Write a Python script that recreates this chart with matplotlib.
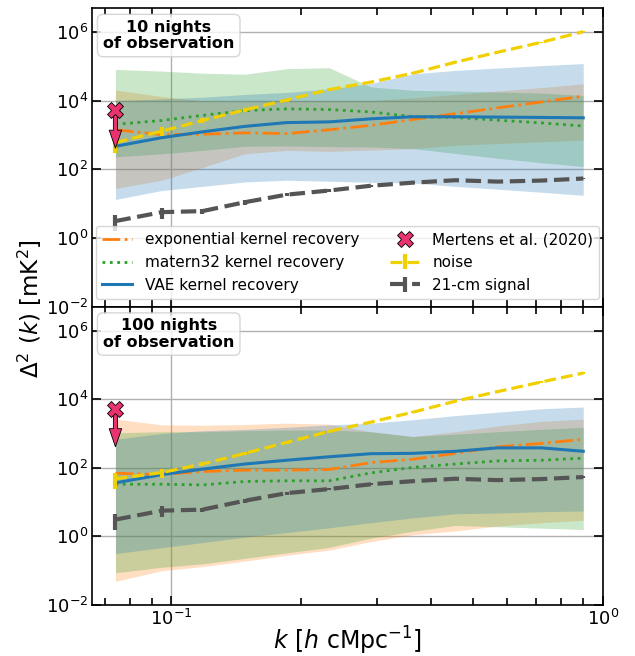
import numpy as np
import matplotlib
matplotlib.use("Agg")
import matplotlib.pyplot as plt
from matplotlib.ticker import FixedLocator, NullLocator, LogLocator, NullFormatter

# ---------------- data ----------------
k = [0.0742, 0.095, 0.118, 0.148, 0.185, 0.232, 0.29, 0.363, 0.455, 0.57, 0.72, 0.90]

# 21-cm signal (same in both panels), log10 mK^2
signal_log = [0.49, 0.75, 0.78, 1.04, 1.26, 1.38, 1.52, 1.61, 1.68, 1.64, 1.67, 1.73]
signal_relerr = [0.5, 0.35, 0.15, 0.15, 0.1, 0.08, 0.06, 0.05, 0.05, 0.05, 0.05, 0.05]

# noise
noise10_log = [2.78, 3.11, 3.42, 3.73, 4.02, 4.32, 4.54, 4.80, 5.12, 5.41, 5.70, 6.01]
noise100_log = [1.68, 1.86, 2.11, 2.42, 2.74, 3.06, 3.33, 3.62, 3.94, 4.22, 4.50, 4.76]
noise_relerr = [0.5, 0.3, 0.15, 0.12, 0.1, 0.08, 0.06, 0.05, 0.05, 0.05, 0.05, 0.05]

# 10 nights: medians and bands (log10)
exp10_log = [3.15, 3.01, 3.02, 3.06, 3.04, 3.15, 3.28, 3.45, 3.62, 3.79, 3.96, 4.13]
exp10_hi = [4.31, 4.12, 4.00, 3.98, 4.00, 4.00, 4.00, 4.08, 4.18, 4.28, 4.38, 4.49]
exp10_lo = [1.44, 1.68, 2.05, 2.45, 2.55, 2.52, 2.56, 2.60, 2.70, 2.75, 2.80, 2.85]
mat10_log = [3.31, 3.42, 3.57, 3.71, 3.76, 3.74, 3.67, 3.53, 3.51, 3.43, 3.35, 3.26]
mat10_hi = [4.91, 4.86, 4.80, 4.77, 4.93, 4.96, 4.40, 4.30, 4.28, 4.25, 4.22, 4.15]
mat10_lo = [2.36, 2.45, 2.55, 2.67, 2.68, 2.66, 2.65, 2.60, 2.46, 2.32, 2.19, 2.08]
vae10_log = [2.67, 2.92, 3.09, 3.25, 3.36, 3.38, 3.47, 3.53, 3.53, 3.52, 3.51, 3.50]
vae10_hi = [4.00, 4.05, 4.10, 4.18, 4.24, 4.34, 4.50, 4.78, 4.88, 4.95, 5.02, 5.08]
vae10_lo = [1.12, 1.38, 1.50, 1.63, 1.68, 1.65, 1.62, 1.60, 1.50, 1.42, 1.33, 1.24]

# 100 nights
exp100_log = [1.84, 1.80, 1.89, 1.93, 1.93, 1.95, 2.15, 2.25, 2.42, 2.61, 2.71, 2.83]
exp100_hi = [3.42, 3.25, 3.24, 3.26, 3.30, 3.27, 3.05, 2.91, 3.05, 3.22, 3.35, 3.42]
exp100_lo = [-1.31, -1.00, -0.88, -0.72, -0.55, -0.40, -0.15, 0.05, 0.16, 0.30, 0.40, 0.47]
mat100_log = [1.52, 1.52, 1.50, 1.60, 1.62, 1.62, 1.85, 2.01, 2.11, 2.20, 2.22, 2.28]
mat100_hi = [3.02, 3.05, 3.05, 3.08, 3.10, 3.10, 3.05, 2.91, 2.98, 3.05, 3.12, 3.18]
mat100_lo = [-1.06, -0.90, -0.80, -0.64, -0.48, -0.32, -0.05, 0.15, 0.32, 0.28, 0.24, 0.20]
vae100_log = [1.56, 1.80, 1.96, 2.11, 2.22, 2.32, 2.41, 2.42, 2.48, 2.58, 2.58, 2.48]
vae100_hi = [2.83, 3.00, 3.08, 3.12, 3.18, 3.25, 3.30, 3.40, 3.52, 3.62, 3.72, 3.77]
vae100_lo = [-0.50, -0.33, -0.18, -0.02, 0.11, 0.25, 0.40, 0.54, 0.66, 0.68, 0.72, 0.74]

# Mertens et al. (2020) upper limit
mertens_k = 0.0742
mertens_val = 5308.0
mertens_tip = 410.0

panel_titles = ["10 nights\nof observation", "100 nights\nof observation"]

# ---------------- plotting ----------------
def P(a):
    return 10.0 ** np.asarray(a, dtype=float)

C_EXP = "#ff7f0e"
C_MAT = "#2ca02c"
C_VAE = "#1f77b4"
C_NOISE = "#f0d000"
C_SIG = "#555555"
C_MER = "#e8336e"

fig, axes = plt.subplots(2, 1, sharex=True, figsize=(6.35, 6.56), dpi=100)
fig.subplots_adjust(left=0.145, right=0.9496, top=0.9878, bottom=0.0777, hspace=0)

panels = [
    dict(exp=(exp10_log, exp10_lo, exp10_hi), mat=(mat10_log, mat10_lo, mat10_hi),
         vae=(vae10_log, vae10_lo, vae10_hi), noise=noise10_log),
    dict(exp=(exp100_log, exp100_lo, exp100_hi), mat=(mat100_log, mat100_lo, mat100_hi),
         vae=(vae100_log, vae100_lo, vae100_hi), noise=noise100_log),
]

kk = np.asarray(k)
for i, (ax, pdat) in enumerate(zip(axes, panels)):
    for key, col in (("exp", C_EXP), ("mat", C_MAT), ("vae", C_VAE)):
        med, lo, hi = pdat[key]
        ax.fill_between(kk, P(lo), P(hi), color=col, alpha=0.25, linewidth=0)
    h_exp, = ax.plot(kk, P(pdat["exp"][0]), color=C_EXP, ls="-.", lw=2.0,
                     label="exponential kernel recovery")
    h_mat, = ax.plot(kk, P(pdat["mat"][0]), color=C_MAT, ls=":", lw=2.0,
                     label="matern32 kernel recovery")
    h_vae, = ax.plot(kk, P(pdat["vae"][0]), color=C_VAE, ls="-", lw=2.2,
                     label="VAE kernel recovery")
    nv = P(pdat["noise"])
    h_noise = ax.errorbar(kk, nv, yerr=nv * np.asarray(noise_relerr), color=C_NOISE,
                          ls="--", lw=2.3, elinewidth=3, label="noise")
    sv = P(signal_log)
    h_sig = ax.errorbar(kk, sv, yerr=sv * np.asarray(signal_relerr), color=C_SIG,
                        ls="--", lw=3.0, elinewidth=3, label="21-cm signal")
    h_mer, = ax.plot([mertens_k], [mertens_val], ls="none", marker="X", ms=11,
                     mfc=C_MER, mec="black", mew=0.6, label="Mertens et al. (2020)", zorder=6)
    ax.annotate("", xy=(mertens_k, mertens_tip), xytext=(mertens_k, mertens_val * 0.78),
                arrowprops=dict(facecolor=C_MER, edgecolor="black", linewidth=0.6,
                                width=3, headwidth=9, headlength=13, shrink=0),
                zorder=5)

    ax.set_xscale("log")
    ax.set_yscale("log")
    ax.set_xlim(0.0655, 1.0)
    ax.set_ylim(1e-2, 5e6)
    ax.yaxis.set_major_locator(FixedLocator([1e-2, 1e0, 1e2, 1e4, 1e6]))
    ax.yaxis.set_minor_locator(NullLocator())
    ax.xaxis.set_minor_locator(LogLocator(base=10, subs=np.arange(2, 10) * 1.0))
    ax.xaxis.set_minor_formatter(NullFormatter())
    ax.grid(True, which="major", color="#b0b0b0", lw=1.0)
    ax.set_axisbelow(True)
    ax.tick_params(which="both", direction="in", top=True, right=True, labelsize=13,
                   width=1.2, pad=3)
    ax.tick_params(which="major", length=6.5)
    ax.tick_params(which="minor", length=5)
    for s in ax.spines.values():
        s.set_linewidth(1.2)
    ax.text(0.150, 0.960, panel_titles[i], transform=ax.transAxes, ha="center", va="top",
            fontsize=11.5, fontweight="bold", linespacing=1.1,
            bbox=dict(boxstyle="round,pad=0.35", fc="white", ec="0.8", alpha=0.8), zorder=10)

    if i == 0:
        ax.legend(handles=[h_exp, h_mat, h_vae, h_mer, h_noise, h_sig], loc="lower center",
                  ncol=2, fontsize=11, framealpha=0.8)

axes[1].set_xlabel(r"$k\ [h\ \mathrm{cMpc}^{-1}]$", fontsize=17, labelpad=-3)
fig.text(0.047, 0.53, r"$\Delta^2\ (k)\ [\mathrm{mK}^2]$", rotation=90, ha="center",
         va="center", fontsize=16.5)

fig.savefig("out.png", dpi=100)
